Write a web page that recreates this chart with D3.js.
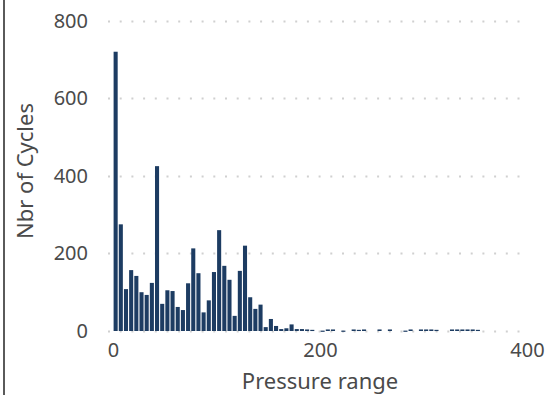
<!DOCTYPE html>
<html>
<head>
<meta charset="utf-8">
<script src="https://cdn.jsdelivr.net/npm/d3@7"></script>
<style>
  html, body { margin: 0; padding: 0; background: #fff; }
  svg { display: block; font-family: "Noto Sans", "Open Sans", sans-serif; }
</style>
</head>
<body>
<div id="chart"></div>
<script>
// histogram of pressure ranges, 5 units per bin
const binWidth = 5;
const counts = [
  720, 275, 108, 157, 142, 100, 93, 124, 425, 70,
  105, 103, 62, 54, 123, 213, 149, 48, 79, 152,
  260, 168, 132, 39, 155, 220, 87, 57, 68, 10,
  31, 13, 5, 7, 17, 5, 5, 4, 3, 0,
  1, 4, 4, 0, 1, 0, 4, 3, 4, 0,
  0, 4, 0, 4, 0, 0, 1, 4, 0, 4,
  4, 4, 3, 0, 0, 4, 4, 4, 4, 4,
  3
];
const xTicks = [0, 200, 400];
const yTicks = [0, 200, 400, 600, 800];
const xTitle = 'Pressure range';
const yTitle = 'Nbr of Cycles';

const width = 550, height = 395;
const plot = { left: 113, right: 527, top: 20.7, bottom: 331 };

const svg = d3.select('#chart').append('svg')
  .attr('width', width)
  .attr('height', height);

const x = d3.scaleLinear().domain([0, 400]).range([plot.left, plot.right]);
const y = d3.scaleLinear().domain([0, 800]).range([plot.bottom, plot.top]);

// left frame edge
svg.append('line')
  .attr('x1', 4).attr('x2', 4)
  .attr('y1', 0).attr('y2', height)
  .attr('stroke', '#5a5a5a')
  .attr('stroke-width', 2);

// dotted grid
svg.append('g')
  .selectAll('line')
  .data(yTicks)
  .enter().append('line')
  .attr('x1', plot.left - 5)
  .attr('x2', plot.right - 2)
  .attr('y1', d => Math.round(y(d)) + 0.5)
  .attr('y2', d => Math.round(y(d)) + 0.5)
  .attr('stroke', '#d0d0d0')
  .attr('stroke-width', 2)
  .attr('stroke-dasharray', '2,9.7');

// bars
svg.append('g')
  .selectAll('rect')
  .data(counts.map((c, i) => ({ start: i * binWidth, count: c })).filter(d => d.count > 0))
  .enter().append('rect')
  .attr('x', d => x(d.start) + 0.6)
  .attr('width', d => x(d.start + binWidth) - x(d.start) - 1.1)
  .attr('y', d => y(d.count))
  .attr('height', d => Math.max(y(0) - y(d.count), 1.2))
  .attr('fill', '#1d3c62');

// axes (labels only)
const yAxis = svg.append('g')
  .attr('transform', `translate(${plot.left - 25},0)`)
  .call(d3.axisLeft(y).tickValues(yTicks).tickSize(0).tickPadding(0));
yAxis.select('.domain').remove();
yAxis.selectAll('text')
  .attr('font-size', 20)
  .attr('font-family', '"Noto Sans", sans-serif')
  .attr('fill', '#4a4a4a');

const xAxis = svg.append('g')
  .attr('transform', `translate(0,${plot.bottom + 12})`)
  .call(d3.axisBottom(x).tickValues(xTicks).tickSize(0).tickPadding(0));
xAxis.select('.domain').remove();
xAxis.selectAll('text')
  .attr('font-size', 20)
  .attr('font-family', '"Noto Sans", sans-serif')
  .attr('fill', '#4a4a4a');

// titles
svg.append('text')
  .attr('x', 320)
  .attr('y', 389)
  .attr('text-anchor', 'middle')
  .attr('font-size', 22)
  .attr('fill', '#4a4a4a')
  .text(xTitle);

svg.append('text')
  .attr('transform', 'translate(33,171) rotate(-90)')
  .attr('text-anchor', 'middle')
  .attr('font-size', 22)
  .attr('fill', '#4a4a4a')
  .text(yTitle);
</script>
</body>
</html>
